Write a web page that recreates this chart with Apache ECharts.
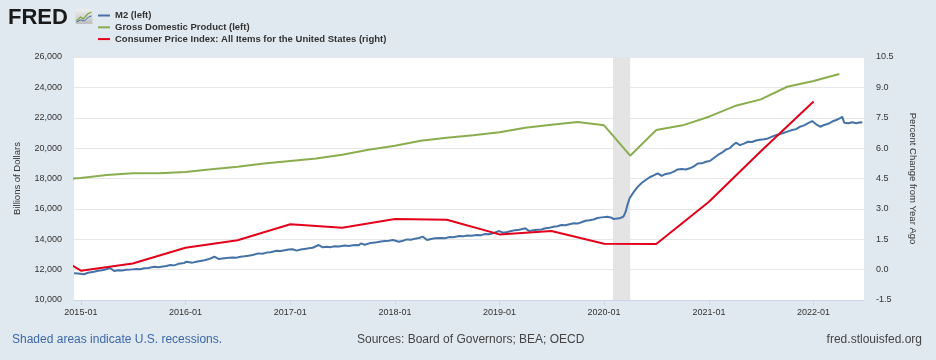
<!DOCTYPE html>
<html>
<head>
<meta charset="utf-8">
<script src="https://cdn.jsdelivr.net/npm/echarts@6/dist/echarts.min.js"></script>
<style>
html,body{margin:0;padding:0;background:#e1e9f0;}
#chart{width:936px;height:360px;}
</style>
</head>
<body>
<div id="chart"></div>
<script>
// ---- Data ----
const m2Dates = ['2014-12-08','2014-12-22','2015-01-12','2015-01-26','2015-02-16','2015-03-02','2015-03-16','2015-03-30','2015-04-13','2015-04-27','2015-05-11','2015-05-25','2015-06-08','2015-06-22','2015-07-13','2015-07-27','2015-08-10','2015-08-24','2015-09-14','2015-09-28','2015-10-26','2015-11-09','2015-11-23','2015-12-07','2015-12-28','2016-01-04','2016-01-25','2016-02-08','2016-02-22','2016-03-07','2016-03-21','2016-04-11','2016-04-25','2016-05-09','2016-05-23','2016-06-13','2016-06-27','2016-07-11','2016-07-25','2016-08-08','2016-08-22','2016-09-12','2016-09-26','2016-10-10','2016-10-24','2016-11-14','2016-11-28','2016-12-12','2016-12-26','2017-01-09','2017-01-23','2017-02-06','2017-02-20','2017-03-06','2017-03-20','2017-04-10','2017-04-24','2017-05-08','2017-05-22','2017-06-05','2017-06-19','2017-07-10','2017-07-24','2017-08-14','2017-08-28','2017-09-04','2017-09-18','2017-10-09','2017-10-30','2017-11-13','2017-11-27','2017-12-11','2017-12-25','2018-01-15','2018-01-29','2018-02-12','2018-02-26','2018-03-12','2018-03-26','2018-04-09','2018-04-23','2018-05-07','2018-05-21','2018-06-11','2018-06-25','2018-07-09','2018-07-23','2018-08-13','2018-08-27','2018-09-10','2018-09-24','2018-10-15','2018-10-29','2018-11-12','2018-11-26','2018-12-10','2018-12-31','2019-01-14','2019-01-28','2019-02-11','2019-02-25','2019-03-11','2019-04-01','2019-04-15','2019-04-29','2019-05-13','2019-05-27','2019-06-10','2019-06-24','2019-07-08','2019-07-22','2019-08-05','2019-08-19','2019-09-02','2019-09-16','2019-09-30','2019-10-14','2019-10-28','2019-11-11','2019-11-25','2019-12-09','2019-12-23','2020-01-13','2020-01-27','2020-02-03','2020-02-24','2020-03-09','2020-03-16','2020-03-23','2020-03-30','2020-04-13','2020-04-27','2020-05-11','2020-05-25','2020-06-08','2020-06-22','2020-07-06','2020-07-20','2020-08-03','2020-08-17','2020-08-31','2020-09-14','2020-09-28','2020-10-12','2020-10-26','2020-11-09','2020-11-23','2020-12-07','2020-12-21','2021-01-04','2021-01-18','2021-02-01','2021-02-15','2021-03-01','2021-03-15','2021-03-22','2021-04-05','2021-04-19','2021-05-03','2021-05-17','2021-05-31','2021-06-14','2021-06-28','2021-07-12','2021-07-26','2021-08-09','2021-08-23','2021-09-06','2021-09-20','2021-10-04','2021-10-18','2021-11-01','2021-11-15','2021-11-29','2021-12-13','2021-12-27','2022-01-10','2022-01-24','2022-02-07','2022-02-21','2022-03-07','2022-03-21','2022-04-04','2022-04-11','2022-04-18','2022-05-02','2022-05-16','2022-05-30','2022-06-13','2022-06-20'];
const m2Values = [11760,11740,11700,11790,11860,11920,11960,12030,12110,11910,11960,11940,11990,12000,12040,12020,12090,12110,12190,12160,12240,12300,12280,12380,12440,12520,12460,12520,12570,12620,12680,12850,12700,12730,12760,12800,12790,12850,12880,12920,12960,13070,13040,13120,13150,13240,13220,13280,13330,13340,13250,13320,13360,13400,13440,13620,13470,13500,13480,13540,13520,13590,13560,13620,13600,13730,13640,13760,13800,13850,13880,13900,13950,13840,13900,13990,13970,14040,14080,14170,13950,14020,14060,14090,14070,14140,14130,14210,14190,14250,14230,14280,14270,14340,14330,14400,14540,14430,14480,14540,14600,14620,14720,14540,14600,14620,14640,14720,14750,14820,14860,14940,14920,14990,15050,15030,15120,15220,15250,15300,15400,15440,15480,15420,15330,15380,15500,15800,16300,16700,17100,17450,17700,17900,18080,18200,18340,18170,18300,18340,18450,18600,18620,18590,18670,18800,18990,19000,19100,19150,19350,19550,19700,19900,20000,20140,20360,20200,20300,20420,20400,20500,20550,20580,20640,20760,20860,20920,21010,21100,21190,21250,21410,21500,21640,21780,21570,21410,21520,21600,21750,21850,21970,22070,21670,21640,21700,21640,21700,21680];

const gdpDates = ['2014-10-01','2015-01-01','2015-04-01','2015-07-01','2015-10-01','2016-01-01','2016-04-01','2016-07-01','2016-10-01','2017-01-01','2017-04-01','2017-07-01','2017-10-01','2018-01-01','2018-04-01','2018-07-01','2018-10-01','2019-01-01','2019-04-01','2019-07-01','2019-10-01','2020-01-01','2020-04-01','2020-07-01','2020-10-01','2021-01-01','2021-04-01','2021-07-01','2021-10-01','2022-01-01','2022-04-01'];
const gdpValues = [17920,18040,18230,18340,18350,18430,18610,18780,18980,19150,19310,19560,19900,20160,20480,20690,20850,21040,21340,21535,21720,21500,19500,21190,21500,22070,22770,23210,24040,24420,24880];

const cpiDates = ['2014-07-01','2015-01-01','2015-07-01','2016-01-01','2016-07-01','2017-01-01','2017-07-01','2018-01-01','2018-07-01','2019-01-01','2019-07-01','2020-01-01','2020-07-01','2021-01-01','2021-07-01','2022-01-01'];
const cpiValues = [1.5,-0.05,0.3,1.08,1.45,2.24,2.07,2.5,2.46,1.74,1.91,1.28,1.27,3.35,5.85,8.3];

const recessionStart = '2020-02-01';
const recessionEnd = '2020-04-01';

const leftTicks = {min: 10000, max: 26000, interval: 2000};
const rightTicks = {min: -1.5, max: 10.5, interval: 1.5};

const seriesNames = ['M2 (left)', 'Gross Domestic Product (left)', 'Consumer Price Index: All Items for the United States (right)'];
const xMin = '2014-12-08';
const xMax = '2022-06-26';

// ---- Chart ----
const zip = (d, v) => d.map((x, i) => [x, v[i]]);
const chart = echarts.init(document.getElementById('chart'));
const FONT = 'Liberation Sans, Arial, Helvetica, sans-serif';
const option = {
  backgroundColor: '#e1e9f0',
  animation: false,
  textStyle: {fontFamily: FONT},
  grid: {left: 74, right: 72, top: 57, bottom: 60, show: true, backgroundColor: '#ffffff', borderWidth: 0},
  legend: {
    orient: 'vertical', left: 98, top: 10, padding: 0, itemWidth: 12, itemHeight: 2, itemGap: 0.8,
    icon: 'rect', data: seriesNames,
    textStyle: {fontSize: 9.5, fontWeight: 'bold', color: '#333333', lineHeight: 11, fontFamily: FONT},
    selectedMode: false
  },
  graphic: [
    {type: 'text', left: 8, top: 7, style: {text: 'FRED', font: '900 22px ' + FONT, fill: '#1a1a1a'}},
    {type: 'group', left: 74, top: 9, children: [
      {type: 'rect', shape: {x: 0, y: 0, width: 17, height: 15, r: 1}, style: {fill: new echarts.graphic.LinearGradient(0,0,0,1,[{offset:0,color:'#f0f0f0'},{offset:1,color:'#bdbdbd'}])}},
      {type: 'polyline', shape: {points: [[1,12],[5,8],[8,10],[12,5],[16,3]]}, style: {stroke: '#7fa843', lineWidth: 1.3, fill: null}},
      {type: 'polyline', shape: {points: [[1,13],[5,11],[9,12],[13,8],[16,7]]}, style: {stroke: '#4572a7', lineWidth: 1, fill: null}}
    ]},
    {type: 'text', left: 12, top: 334, style: {text: 'Shaded areas indicate U.S. recessions.', font: '12px ' + FONT, fill: '#3c67a8'}},
    {type: 'text', left: 357, top: 334, style: {text: 'Sources: Board of Governors; BEA; OECD', font: '12px ' + FONT, fill: '#444444'}},
    {type: 'text', right: 14, top: 334, style: {text: 'fred.stlouisfed.org', font: '12px ' + FONT, fill: '#444444'}}
  ],
  xAxis: {
    type: 'time', min: xMin, max: xMax, splitNumber: 8,
    minInterval: 365 * 24 * 3600 * 1000,
    axisLine: {show: true, onZero: false, lineStyle: {color: '#ccd6eb', width: 1}},
    axisTick: {show: true, length: 5, lineStyle: {color: '#ccd6eb'}},
    splitLine: {show: false},
    axisLabel: {
      fontSize: 9, color: '#333333', margin: 8, showMinLabel: false, showMaxLabel: false,
      formatter: function (v) { const d = new Date(v); return d.getFullYear() + '-' + String(d.getMonth() + 1).padStart(2, '0'); }
    }
  },
  yAxis: [
    {
      type: 'value', position: 'left', min: leftTicks.min, max: leftTicks.max, interval: leftTicks.interval,
      name: 'Billions of Dollars', nameLocation: 'middle', nameGap: 52, nameRotate: 90,
      nameTextStyle: {fontSize: 9.5, color: '#333333'},
      axisLine: {show: false}, axisTick: {show: false},
      splitLine: {show: true, lineStyle: {color: '#e6e6e6', width: 1}},
      axisLabel: {fontSize: 9, color: '#333333', margin: 12, formatter: v => v.toLocaleString('en-US')}
    },
    {
      type: 'value', position: 'right', min: rightTicks.min, max: rightTicks.max, interval: rightTicks.interval,
      name: 'Percent Change from Year Ago', nameLocation: 'middle', nameGap: 44, nameRotate: -90,
      nameTextStyle: {fontSize: 9.5, color: '#333333'},
      axisLine: {show: false}, axisTick: {show: false}, splitLine: {show: false},
      axisLabel: {fontSize: 9, color: '#333333', margin: 12, formatter: v => v.toFixed(1)}
    }
  ],
  series: [
    {
      name: 'recession', type: 'line', data: [], z: 1, silent: true,
      markArea: {silent: true, itemStyle: {color: '#e4e4e4'}, data: [[{xAxis: recessionStart}, {xAxis: recessionEnd}]]}
    },
    {name: seriesNames[0], type: 'line', yAxisIndex: 0, z: 3, data: zip(m2Dates, m2Values), showSymbol: false, lineStyle: {color: '#4572a7', width: 2}, itemStyle: {color: '#4572a7'}},
    {name: seriesNames[1], type: 'line', yAxisIndex: 0, z: 3, data: zip(gdpDates, gdpValues), showSymbol: false, lineStyle: {color: '#8aae4f', width: 2}, itemStyle: {color: '#8aae4f'}},
    {name: seriesNames[2], type: 'line', yAxisIndex: 1, z: 3, data: zip(cpiDates, cpiValues), showSymbol: false, lineStyle: {color: '#e3001b', width: 2}, itemStyle: {color: '#e3001b'}}
  ]
};
chart.setOption(option);
</script>
</body>
</html>
